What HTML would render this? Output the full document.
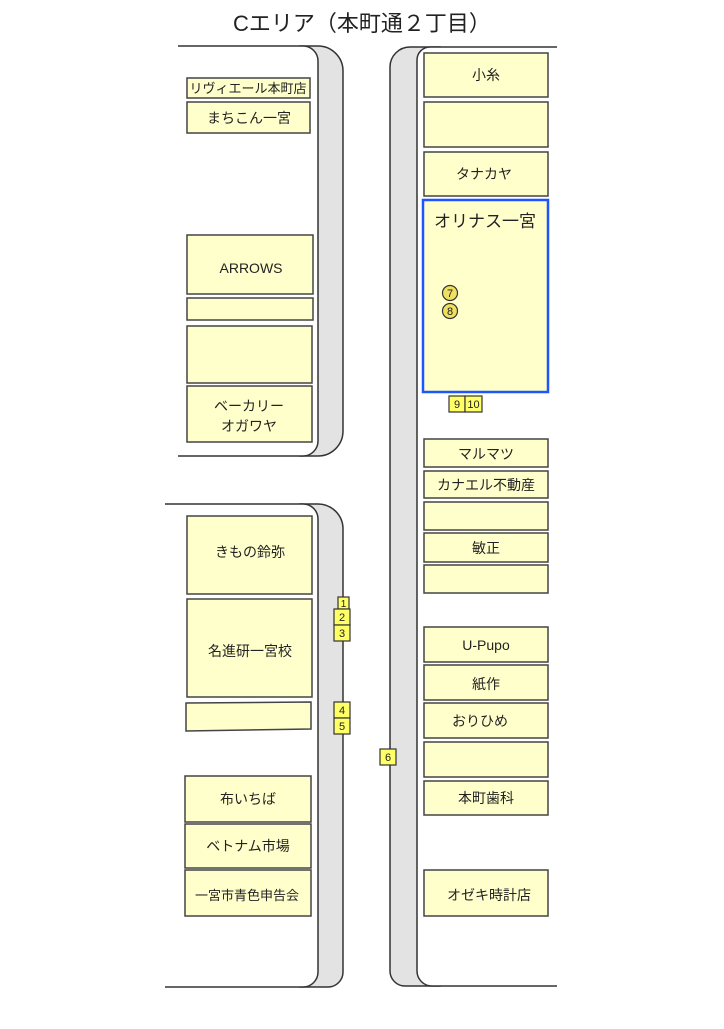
<!DOCTYPE html>
<html><head><meta charset="utf-8"><style>
html,body{margin:0;padding:0;background:#fff;}
svg text{font-family:"Liberation Sans","Noto Sans CJK JP",sans-serif;fill:#222;}
</style></head><body>
<svg width="724" height="1024" viewBox="0 0 724 1024" xmlns="http://www.w3.org/2000/svg">
<rect width="724" height="1024" fill="#fff"/>
<text x="362" y="31" font-size="22" text-anchor="middle">Cエリア（本町通２丁目）</text>

<g stroke="#333" stroke-width="1.5">
<!-- left top block -->
<path d="M300,46 H318 A25,25 0 0 1 343,71 V431 A25,25 0 0 1 318,456 H300 Z" fill="#e3e3e3"/>
<path d="M178,46 H303 A15,15 0 0 1 318,61 V441 A15,15 0 0 1 303,456 H178" fill="#fff"/>
<!-- left bottom block -->
<path d="M300,504 H318 A25,25 0 0 1 343,529 V972 A15,15 0 0 1 328,987 H300 Z" fill="#e3e3e3"/>
<path d="M165,504 H303 A15,15 0 0 1 318,519 V972 A15,15 0 0 1 303,987 H165" fill="#fff"/>
<!-- right block -->
<path d="M410,47 H440 V986 H405 A15,15 0 0 1 390,971 V67 A20,20 0 0 1 410,47 Z" fill="#e3e3e3"/>
<path d="M557,47 H430 A13,13 0 0 0 417,60 V971 A15,15 0 0 0 432,986 H557" fill="#fff"/>
</g>

<g fill="#ffffcc" stroke="#444" stroke-width="1.5">
<rect x="187" y="78" width="123" height="20"/>
<rect x="187" y="102" width="123" height="31"/>
<rect x="187" y="235" width="126" height="59"/>
<rect x="187" y="298" width="126" height="22"/>
<rect x="187" y="326" width="125" height="57"/>
<rect x="187" y="386" width="125" height="56"/>
<rect x="187" y="516" width="125" height="78"/>
<rect x="187" y="599" width="125" height="98"/>
<path d="M186,703 L311,702 V729 L186,731 Z"/>
<rect x="185" y="776" width="126" height="46"/>
<rect x="185" y="824" width="126" height="44"/>
<rect x="185" y="870" width="126" height="46"/>

<rect x="424" y="53" width="124" height="44"/>
<rect x="424" y="102" width="124" height="45"/>
<rect x="424" y="152" width="124" height="44"/>
<rect x="424" y="439" width="124" height="28"/>
<rect x="424" y="471" width="124" height="27"/>
<rect x="424" y="502" width="124" height="28"/>
<rect x="424" y="533" width="124" height="29"/>
<rect x="424" y="565" width="124" height="28"/>
<rect x="424" y="627" width="124" height="35"/>
<rect x="424" y="665" width="124" height="35"/>
<rect x="424" y="703" width="124" height="35"/>
<rect x="424" y="742" width="124" height="35"/>
<rect x="424" y="781" width="124" height="34"/>
<rect x="424" y="870" width="124" height="46"/>
</g>
<rect x="423" y="200" width="125" height="192" fill="#ffffcc" stroke="#1f55ff" stroke-width="2.5"/>

<g font-size="14" text-anchor="middle">
<text x="248" y="93" font-size="13">リヴィエール本町店</text>
<text x="249" y="123">まちこん一宮</text>
<text x="251" y="273">ARROWS</text>
<text x="249" y="411">ベーカリー</text>
<text x="249" y="431">オガワヤ</text>
<text x="250" y="557">きもの鈴弥</text>
<text x="250" y="656">名進研一宮校</text>
<text x="248" y="804">布いちば</text>
<text x="248" y="851">ベトナム市場</text>
<text x="247" y="900" font-size="13">一宮市青色申告会</text>
<text x="486" y="80">小糸</text>
<text x="484" y="179">タナカヤ</text>
<text x="485" y="227" font-size="17">オリナス一宮</text>
<text x="486" y="459">マルマツ</text>
<text x="486" y="490">カナエル不動産</text>
<text x="486" y="553">敏正</text>
<text x="486" y="650">U-Pupo</text>
<text x="486" y="689">紙作</text>
<text x="480" y="726">おりひめ</text>
<text x="486" y="803">本町歯科</text>
<text x="489" y="900">オゼキ時計店</text>
</g>

<g fill="#f0e060" stroke="#333" stroke-width="1.2">
<circle cx="450" cy="293" r="7.5"/>
<circle cx="450" cy="311" r="7.5"/>
</g>
<g font-size="11" text-anchor="middle">
<text x="450" y="297">7</text>
<text x="450" y="315">8</text>
</g>

<g fill="#ffff66" stroke="#333" stroke-width="1.2">
<rect x="449" y="396" width="16" height="16"/>
<rect x="465" y="396" width="17" height="16"/>
<rect x="338" y="597" width="11" height="12"/>
<rect x="334" y="609" width="16" height="16"/>
<rect x="334" y="625" width="16" height="16"/>
<rect x="334" y="702" width="16" height="16"/>
<rect x="334" y="718" width="16" height="16"/>
<rect x="380" y="749" width="16" height="16"/>
</g>
<g font-size="11" text-anchor="middle">
<text x="457" y="408">9</text>
<text x="473.5" y="408">10</text>
<text x="343.5" y="607" font-size="10">1</text>
<text x="342" y="621">2</text>
<text x="342" y="637">3</text>
<text x="342" y="714">4</text>
<text x="342" y="730">5</text>
<text x="388" y="761">6</text>
</g>
</svg>
</body></html>
